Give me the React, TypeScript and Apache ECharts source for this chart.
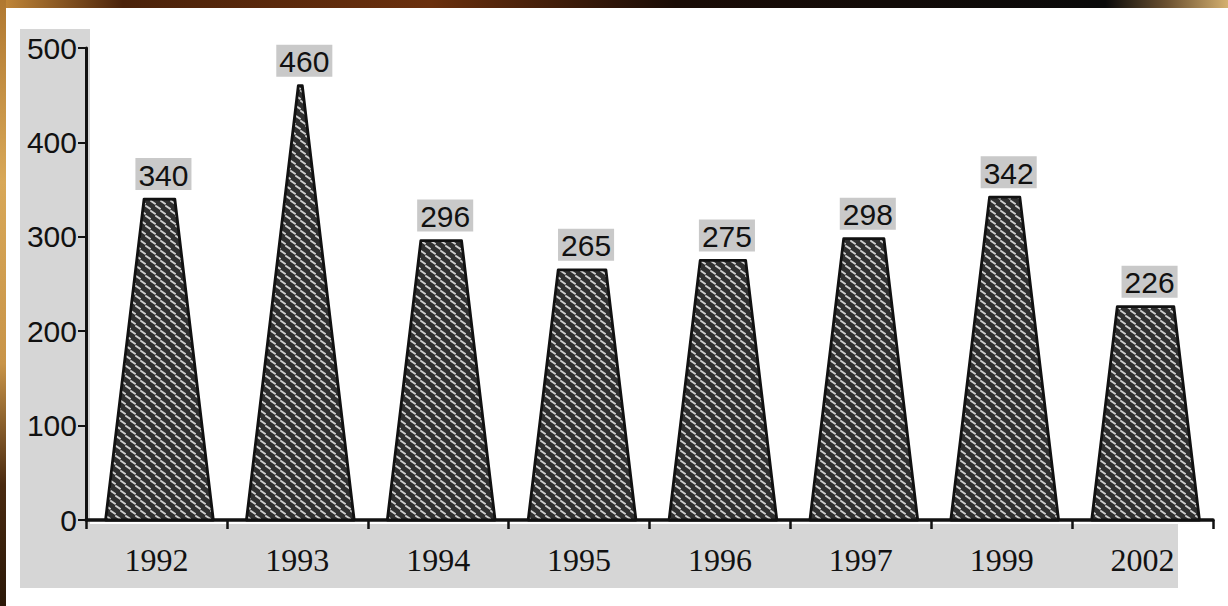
import React, { useEffect, useRef } from "react";
import * as echarts from "echarts";

const years = ["1992", "1993", "1994", "1995", "1996", "1997", "1999", "2002"];
const values = [340, 460, 296, 265, 275, 298, 342, 226];
const yTicks = { min: 0, max: 500, interval: 100 };

function makePattern() {
  const c = document.createElement("canvas");
  c.width = 10;
  c.height = 10;
  const g = c.getContext("2d")!;
  g.fillStyle = "#303030";
  g.fillRect(0, 0, 10, 10);
  g.strokeStyle = "#cfcfcf";
  g.lineWidth = 2;
  g.lineCap = "round";
  const dash = (x: number, y: number) => {
    g.beginPath();
    g.moveTo(x, y);
    g.lineTo(x + 4, y + 2.8);
    g.stroke();
  };
  dash(1, 1);
  dash(6, 6);
  dash(-4, 6);
  dash(11, 1);
  dash(6, -4);
  dash(1, 11);
  return c.toDataURL();
}

export default function App() {
  const ref = useRef<HTMLDivElement>(null);
  useEffect(() => {
    document.body.style.margin = "0";
    const chart = echarts.init(ref.current!, null, { renderer: "svg" });
    const pattern = {
      image: makePattern(),
      repeat: "repeat",
      imageWidth: 10,
      imageHeight: 10,
    } as any;
    const BAR_RATIO = 0.765;
    const SLOPE = 0.12;
    const SHIFT = 3;
    chart.setOption({
      animation: false,
      backgroundColor: "#ffffff",
      grid: { left: 86, right: 15, top: 48, bottom: 86 },
      graphic: [
        {
          type: "rect",
          z: -10,
          shape: { x: 0, y: 0, width: 1228, height: 8 },
          style: {
            fill: new echarts.graphic.LinearGradient(0, 0, 1, 0, [
              { offset: 0, color: "#c58a3a" },
              { offset: 0.1, color: "#4a220a" },
              { offset: 0.35, color: "#6a300e" },
              { offset: 0.55, color: "#1a0c06" },
              { offset: 0.9, color: "#0a0a0a" },
              { offset: 0.95, color: "#6a5030" },
              { offset: 1, color: "#d4b070" },
            ]),
          },
        },
        {
          type: "rect",
          z: -10,
          shape: { x: 0, y: 0, width: 6, height: 606 },
          style: {
            fill: new echarts.graphic.LinearGradient(0, 0, 0, 1, [
              { offset: 0, color: "#b07830" },
              { offset: 0.3, color: "#d8a858" },
              { offset: 0.6, color: "#c89448" },
              { offset: 0.8, color: "#4a2a10" },
              { offset: 1, color: "#2a1808" },
            ]),
          },
        },
        {
          type: "rect",
          z: -10,
          shape: { x: 20, y: 29, width: 70, height: 500 },
          style: { fill: "#d6d6d6" },
        },
        {
          type: "rect",
          z: -10,
          shape: { x: 20, y: 524, width: 1158, height: 64 },
          style: { fill: "#d6d6d6" },
        },
      ],
      xAxis: {
        type: "category",
        data: years,
        boundaryGap: true,
        axisLine: { show: true, lineStyle: { color: "#111", width: 3.5 } },
        axisTick: { show: true, length: 9, lineStyle: { color: "#111", width: 2.5 } },
        axisLabel: {
          color: "#111",
          fontSize: 32,
          fontFamily: "Liberation Serif",
          margin: 24,
        },
        splitLine: { show: false },
      },
      yAxis: {
        type: "value",
        min: yTicks.min,
        max: yTicks.max,
        interval: yTicks.interval,
        axisLine: { show: true, lineStyle: { color: "#111", width: 3 } },
        axisTick: { show: true, length: 8, lineStyle: { color: "#111", width: 2 } },
        axisLabel: {
          color: "#111",
          fontSize: 30,
          fontFamily: "Liberation Sans",
          margin: 9,
        },
        splitLine: { show: false },
      },
      series: [
        {
          type: "custom",
          z: 3,
          data: values.map((v, i) => [i, v]),
          renderItem: (params: any, api: any) => {
            const idx = api.value(0);
            const v = api.value(1);
            const base = api.coord([idx, 0]);
            const top = api.coord([idx, v]);
            const bw = api.size([1, 0])[0] * BAR_RATIO;
            const cx = base[0] + SHIFT;
            const hb = bw / 2;
            const h = base[1] - top[1];
            const ht = Math.max(hb - SLOPE * h, 2);
            return {
              type: "group",
              children: [
                {
                  type: "polygon",
                  shape: {
                    points: [
                      [cx - hb, base[1]],
                      [cx - ht, top[1]],
                      [cx + ht, top[1]],
                      [cx + hb, base[1]],
                    ],
                  },
                  style: { fill: pattern, stroke: "#111", lineWidth: 2.8, lineJoin: "round" },
                },
                {
                  type: "text",
                  x: cx + 4,
                  y: top[1] - 9,
                  style: {
                    text: String(v),
                    fill: "#111",
                    fontSize: 30,
                    fontFamily: "Liberation Sans",
                    align: "center",
                    verticalAlign: "bottom",
                    backgroundColor: "#c9c9c9",
                    padding: [2, 3, 0, 3],
                  },
                },
              ],
            };
          },
        },
      ],
    });
    return () => chart.dispose();
  }, []);
  return (
    <div
      ref={ref}
      style={{ position: "absolute", left: 0, top: 0, width: 1228, height: 606 }}
    />
  );
}
